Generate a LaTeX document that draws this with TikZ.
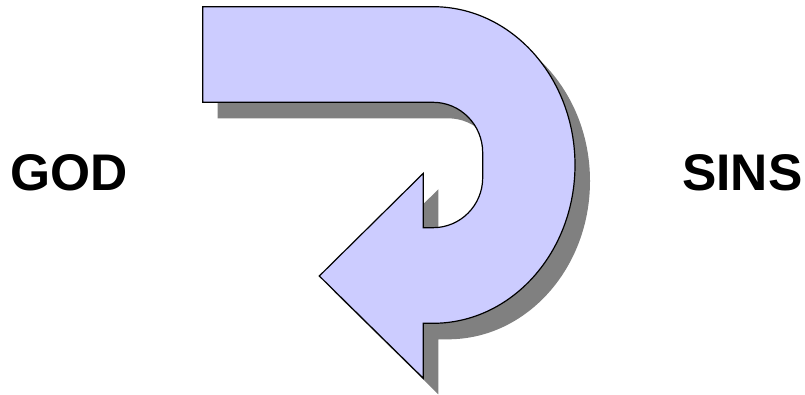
\documentclass[tikz,border=0pt]{standalone}
\usepackage{fontspec}
\setmainfont{Liberation Sans}
\definecolor{arrowfill}{HTML}{CCCCFF}
\definecolor{shadowgray}{HTML}{808080}
\tikzset{
  label/.style={font=\fontsize{51.5}{52}\selectfont\bfseries, inner sep=0pt, anchor=base west},
  arrowbody/.style={fill=arrowfill, draw=black, line width=1.2pt, line join=miter},
  arrowshadow/.style={fill=shadowgray, draw=none}
}
\newcommand{\uarrowpath}{%
  (202.7pt,-6.7pt) -- (433pt,-6.7pt)
  arc[start angle=90, end angle=-90, x radius=142pt, y radius=158.3pt]
  -- (423.3pt,-323.3pt) -- (423.3pt,-378.3pt) -- (319.3pt,-276pt)
  -- (423.3pt,-173.3pt) -- (423.3pt,-227.7pt) -- (433pt,-227.7pt)
  arc[start angle=-90, end angle=0, x radius=49.7pt, y radius=50pt]
  -- (482.7pt,-152.7pt)
  arc[start angle=0, end angle=90, x radius=49.7pt, y radius=50.4pt]
  -- (202.7pt,-102.3pt) -- cycle}
\begin{document}
\begin{tikzpicture}
\useasboundingbox (0pt,0pt) rectangle (805pt,-395pt);
\begin{scope}[shift={(15pt,-16pt)}]
  \path[arrowshadow] \uarrowpath;
\end{scope}
\path[arrowbody] \uarrowpath;
\node[label] (god) at (10pt,-190.5pt) {GOD};
\node[label] (sins) at (682pt,-190.5pt) {SINS};
\end{tikzpicture}
\end{document}
